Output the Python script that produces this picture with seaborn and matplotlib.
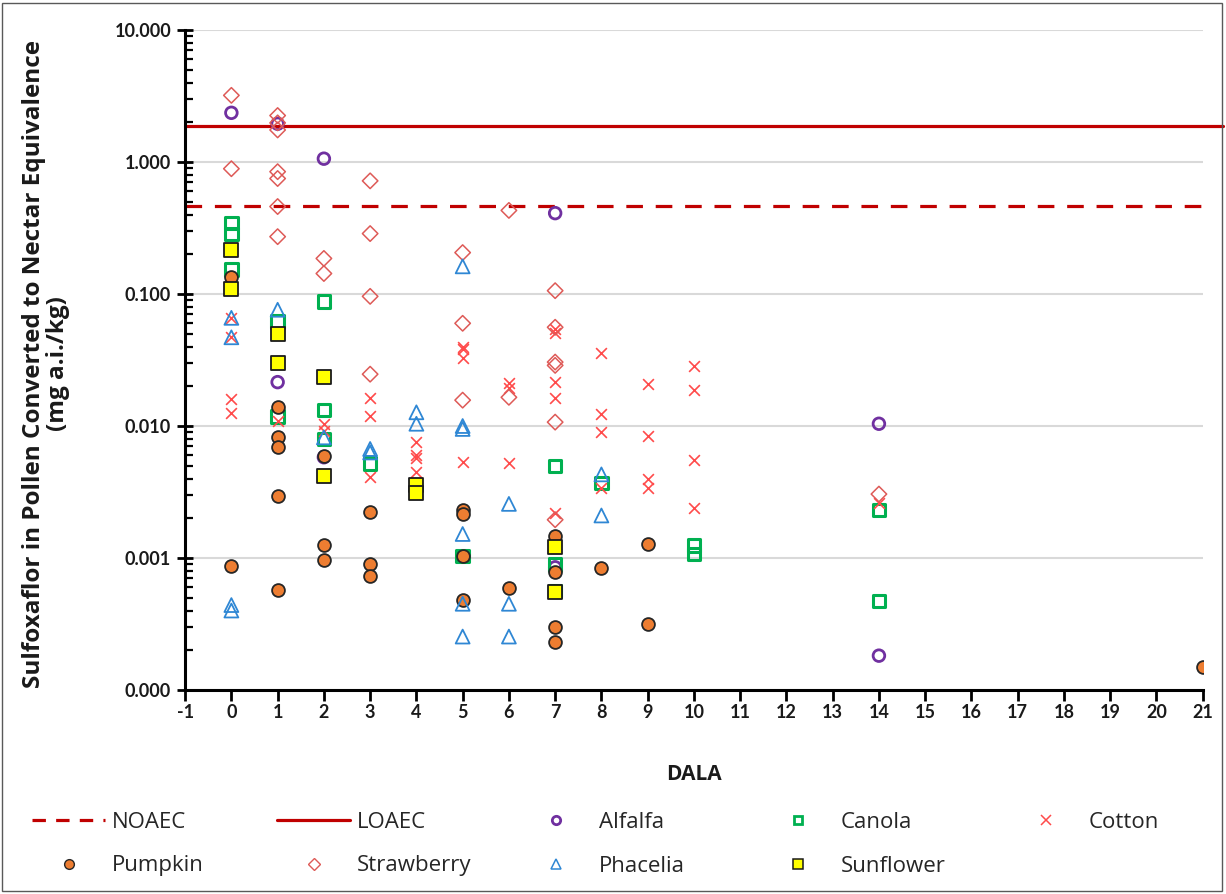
import matplotlib
matplotlib.use('Agg')
import matplotlib.pyplot as plt
import seaborn as sns
from matplotlib.lines import Line2D
from matplotlib.patches import Rectangle
from matplotlib.ticker import FixedLocator, FuncFormatter, LogLocator, NullFormatter

# ---------------- data ----------------
alfalfa_dala = [0, 1, 2, 7, 1, 14, 14, 2, 7]
alfalfa_val = [2.36, 1.95, 1.06, 0.41, 0.0215, 0.0104, 0.000182, 0.0058, 0.00085]

canola_dala = [0, 0, 0, 1, 1, 2, 2, 2, 3, 5, 7, 7, 7, 8, 10, 10, 14, 14]
canola_val = [0.345, 0.285, 0.153, 0.062, 0.0118, 0.088, 0.0132, 0.0080, 0.0052, 0.00104,
              0.0050, 0.00089, 0.00056, 0.0037, 0.00124, 0.00107, 0.0023, 0.00047]

cotton_dala = [0, 0, 0, 0, 1, 2, 2, 3, 3, 3, 4, 4, 4, 4, 5, 5, 5, 5, 6, 6, 6,
               7, 7, 7, 7, 7, 8, 8, 8, 8, 9, 9, 9, 9, 10, 10, 10, 10, 14]
cotton_val = [0.066, 0.047, 0.016, 0.0125, 0.011, 0.0103, 0.0092, 0.0163, 0.0119, 0.0041,
              0.0076, 0.0060, 0.0057, 0.0045, 0.040, 0.038, 0.033, 0.0053, 0.021, 0.0195, 0.0052,
              0.054, 0.051, 0.0215, 0.0163, 0.0022, 0.036, 0.0123, 0.009, 0.0034,
              0.0207, 0.0084, 0.0040, 0.0034, 0.0284, 0.0187, 0.0055, 0.0024, 0.0026]

pumpkin_dala = [0, 0, 1, 1, 1, 1, 1, 2, 2, 2, 3, 3, 3, 5, 5, 5, 5, 6, 7, 7, 7, 7, 8, 9, 9, 21]
pumpkin_val = [0.134, 0.00087, 0.0139, 0.0082, 0.0069, 0.00295, 0.000575, 0.0059, 0.00126, 0.00097,
               0.00223, 0.0009, 0.00073, 0.00231, 0.00217, 0.00104, 0.00048, 0.000595,
               0.00147, 0.00079, 0.0003, 0.000233, 0.00084, 0.00128, 0.000318, 0.000149]

strawberry_dala = [0, 0, 1, 1, 1, 1, 1, 1, 1, 2, 2, 3, 3, 3, 3, 5, 5, 5, 6, 6, 7, 7, 7, 7, 7, 7, 14]
strawberry_val = [3.2, 0.89, 2.25, 1.98, 1.75, 0.845, 0.75, 0.46, 0.272, 0.186, 0.143,
                  0.72, 0.287, 0.096, 0.0247, 0.206, 0.06, 0.0157, 0.43, 0.0165,
                  0.106, 0.056, 0.0305, 0.0288, 0.0107, 0.00195, 0.00305]

phacelia_dala = [0, 0, 0, 0, 1, 2, 3, 3, 4, 4, 5, 5, 5, 5, 5, 5, 6, 6, 6, 8, 8]
phacelia_val = [0.066, 0.047, 0.00044, 0.00040, 0.076, 0.0082, 0.0067, 0.0063, 0.0127, 0.0104,
                0.162, 0.0100, 0.0095, 0.00152, 0.00045, 0.000254, 0.00257, 0.00045, 0.000254,
                0.0043, 0.0021]

sunflower_dala = [0, 0, 1, 1, 2, 2, 4, 4, 7, 7]
sunflower_val = [0.214, 0.110, 0.0495, 0.0299, 0.0234, 0.0042, 0.0036, 0.0031, 0.00122, 0.00055]

noaec_value = 0.467
loaec_value = 1.88

x_ticks = list(range(-1, 22))
y_ticks = [0.0001, 0.001, 0.01, 0.1, 1.0, 10.0]

# ---------------- style ----------------
sns.set_theme(style='white')
plt.rcParams['font.family'] = ['Lato', 'DejaVu Sans']

fig = plt.figure(figsize=(12.26, 8.94), dpi=100)
ax = fig.add_axes([0.151, 0.2282, 0.830, 0.7382])

line_color = '#C00000'
ax.axhline(noaec_value, color=line_color, lw=2.3, linestyle=(0, (5.2, 4.0)), zorder=2,
           xmin=0, xmax=1.006, clip_on=False)
ax.axhline(loaec_value, color=line_color, lw=2.3, zorder=2, xmin=0, xmax=1.02, clip_on=False)

series = [
    ('Alfalfa', alfalfa_dala, alfalfa_val, dict(marker='o', s=70, color='#7030A0', lw=2.0, open=True)),
    ('Canola', canola_dala, canola_val, dict(marker='s', s=80, color='#00B050', lw=2.2, open=True)),
    ('Cotton', cotton_dala, cotton_val, dict(marker='x', s=60, color='#FF4B4B', lw=1.2, open=False)),
    ('Pumpkin', pumpkin_dala, pumpkin_val, dict(marker='o', s=85, color='#ED7D31', lw=1.3, ec='#262626', open=False)),
    ('Strawberry', strawberry_dala, strawberry_val, dict(marker='D', s=62, color='#DE5A57', lw=1.1, open=True)),
    ('Phacelia', phacelia_dala, phacelia_val, dict(marker='^', s=100, color='#2F87D4', lw=1.3, open=True)),
    ('Sunflower', sunflower_dala, sunflower_val, dict(marker='s', s=95, color='#FFFF00', lw=1.3, ec='#1a1a1a', open=False)),
]

for i, (name, xs, ys, st) in enumerate(series):
    kw = dict(x=xs, y=ys, ax=ax, marker=st['marker'], s=st['s'], linewidth=st['lw'],
              zorder=3 + i, legend=False)
    if st['marker'] == 'x':
        sns.scatterplot(color=st['color'], **kw)
    elif st['open']:
        sns.scatterplot(color=st['color'], edgecolor=st['color'], **kw)
        coll = ax.collections[-1]
        coll.set_facecolor('none')
        coll.set_edgecolor(st['color'])
    else:
        sns.scatterplot(color=st['color'], edgecolor=st['ec'], **kw)

# ---------------- axes ----------------
ax.set_yscale('log')
ax.set_ylim(1e-4, 10)
ax.set_xlim(-1, 21)
ax.yaxis.set_major_locator(FixedLocator(y_ticks))
ax.yaxis.set_major_formatter(FuncFormatter(lambda v, p: f'{v:.3f}'))
ax.yaxis.set_minor_locator(LogLocator(base=10, subs=range(2, 10), numticks=20))
ax.yaxis.set_minor_formatter(NullFormatter())
ax.xaxis.set_major_locator(FixedLocator(x_ticks))
ax.set_xticklabels([str(t) for t in x_ticks])

ax.grid(False)
ax.yaxis.grid(True, which='major', color='#d9d9d9', lw=1.5)
ax.set_axisbelow(True)
for side in ['top', 'right']:
    ax.spines[side].set_visible(False)
for side in ['left', 'bottom']:
    ax.spines[side].set_color('black')
    ax.spines[side].set_linewidth(2.2)

ax.tick_params(axis='x', which='major', direction='out', length=8, width=2, color='black',
               labelsize=13, pad=2, bottom=True)
ax.tick_params(axis='y', which='major', direction='inout', length=12, width=2, color='black',
               labelsize=13, pad=4, left=True)
ax.tick_params(axis='y', which='minor', direction='in', length=6, width=1.6, color='black', left=True)
for lbl in ax.get_xticklabels() + ax.get_yticklabels():
    lbl.set_fontweight('bold')
    lbl.set_color('#1a1a1a')

ax.set_xlabel('')
ax.set_ylabel('')
fig.text(46 / 1226, 1 - 364 / 894,
         'Sulfoxaflor in Pollen Converted to Nectar Equivalence\n(mg a.i./kg)',
         rotation=90, ha='center', va='center', multialignment='center',
         fontsize=17.5, fontweight='bold', color='#1a1a1a', linespacing=1.05,
         family=['Open Sans', 'DejaVu Sans'])
fig.text(694 / 1226, 1 - 775 / 894, 'DALA', ha='center', va='center',
         fontsize=15, fontweight='bold', color='#1a1a1a', family=['Open Sans', 'DejaVu Sans'])

# ---------------- legend ----------------
def mk(marker, color, ms, mew, open_=True, ec=None):
    return Line2D([], [], linestyle='none', marker=marker, markersize=ms,
                  markerfacecolor='none' if open_ else color,
                  markeredgecolor=color if ec is None else ec, markeredgewidth=mew)

entries = [
    ('NOAEC', Line2D([], [], color=line_color, lw=2.3, linestyle=(0, (4.2, 3.2))), 32, 822),
    ('LOAEC', Line2D([], [], color=line_color, lw=2.3), 277, 822),
    ('Alfalfa', mk('o', '#7030A0', 6, 2.0), 519, 822),
    ('Canola', mk('s', '#00B050', 6, 2.0), 761, 822),
    ('Cotton', mk('x', '#FF4B4B', 7, 1.1), 1009, 822),
    ('Pumpkin', mk('o', '#ED7D31', 7, 1.0, open_=False, ec='#262626'), 32, 866),
    ('Strawberry', mk('D', '#DE5A57', 6, 1.0), 277, 866),
    ('Phacelia', mk('^', '#2F87D4', 7, 1.1), 519, 866),
    ('Sunflower', mk('s', '#FFFF00', 7, 1.1, open_=False, ec='#1a1a1a'), 761, 866),
]
for label, h, px, py in entries:
    fs = 16
    leg = fig.legend([h], [label], loc='center left', bbox_to_anchor=(px / 1226, 1 - py / 894),
                     frameon=False, handlelength=73 / (fs * 100 / 72), handletextpad=0.3,
                     borderpad=0, borderaxespad=0,
                     prop={'family': ['Open Sans', 'DejaVu Sans'], 'size': fs})
    for t in leg.get_texts():
        t.set_color('#262626')

fig.patches.append(Rectangle((0.002, 0.003), 0.995, 0.994, transform=fig.transFigure,
                             fill=False, ec='#595959', lw=1.0))

fig.savefig('out.png', dpi=100)
